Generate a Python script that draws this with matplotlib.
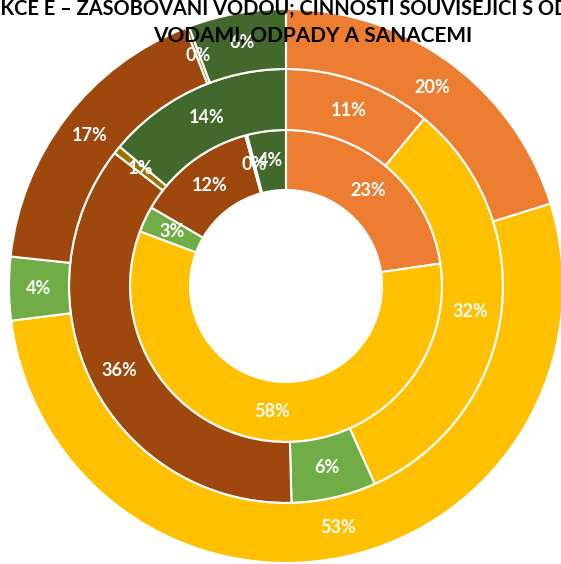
import matplotlib
matplotlib.use("Agg")
import matplotlib.pyplot as plt

# Ring data (percent), clockwise from 12 o'clock, innermost ring first
categories = ["A", "B", "C", "D", "E", "F"]
inner_vals = [22.7, 58.0, 2.7, 12.4, 0.2, 4.0]
middle_vals = [11.0, 32.3, 6.3, 35.9, 0.6, 13.9]
outer_vals = [20.2, 52.8, 3.7, 17.4, 0.2, 5.7]

colors = ["#ED7D31", "#FFC000", "#70AD47", "#9E480E", "#997300", "#43682B"]

title_line1 = "SEKCE E – ZÁSOBOVÁNÍ VODOU; ČINNOSTI SOUVISEJÍCÍ S ODPADNÍMI"
title_line2 = "VODAMI, ODPADY A SANACEMI"

W, H = 561, 564
fig = plt.figure(figsize=(W / 100, H / 100), dpi=100)
ax = fig.add_axes([0, 0, 1, 1])

cx, cy = 286, H - 286
rings = [
    (inner_vals, 156, 60),
    (middle_vals, 217, 61),
    (outer_vals, 277, 60),
]

for vals, R, w in rings:
    ax.pie(vals, radius=R, center=(cx, cy), colors=colors,
           startangle=90, counterclock=False,
           wedgeprops=dict(width=w, edgecolor="white", linewidth=1.5),
           autopct=lambda p: f"{p:.0f}%", pctdistance=(R - w / 2) / R,
           textprops=dict(color="white", fontsize=13, fontweight="bold",
                          family="Lato"))

ax.set_xlim(0, W)
ax.set_ylim(0, H)
ax.set_aspect("auto")
ax.axis("off")

fig.text(318 / W, 1 - 15 / H, title_line1, ha="center", va="baseline",
         fontsize=14.4, fontweight="bold", family="Lato", color="black")
fig.text(313 / W, 1 - 42 / H, title_line2, ha="center", va="baseline",
         fontsize=15, fontweight="bold", family="Lato", color="black")

fig.savefig("out.png", dpi=100)
